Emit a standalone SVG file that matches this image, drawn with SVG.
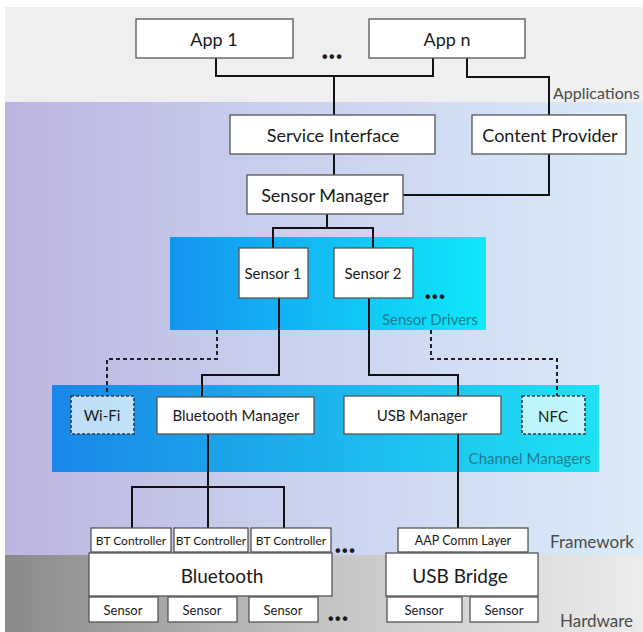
<svg xmlns="http://www.w3.org/2000/svg" width="643" height="632" viewBox="0 0 643 632">
<defs>
<linearGradient id="gFw" x1="0" y1="0" x2="1" y2="0">
<stop offset="0" stop-color="#bcb5e1"/>
<stop offset="0.45" stop-color="#c9d1ee"/>
<stop offset="1" stop-color="#dbecf8"/>
</linearGradient>
<linearGradient id="gHw" x1="0" y1="0" x2="1" y2="0">
<stop offset="0" stop-color="#8a8a8a"/>
<stop offset="0.5" stop-color="#c4c4c4"/>
<stop offset="1" stop-color="#ececec"/>
</linearGradient>
<linearGradient id="gSd" x1="0" y1="0" x2="1" y2="0">
<stop offset="0" stop-color="#1594f0"/>
<stop offset="1" stop-color="#0ee9f9"/>
</linearGradient>
<linearGradient id="gCm" x1="0" y1="0" x2="1" y2="0">
<stop offset="0" stop-color="#1a86e7"/>
<stop offset="1" stop-color="#1fe2f3"/>
</linearGradient>
<style>
.box{fill:#fff;stroke:#555;stroke-width:1.3}
.dbox{fill:#fff;fill-opacity:0.72;stroke:#333a4a;stroke-width:1.6;stroke-dasharray:3 2}
.t{font-family:Lato,"Liberation Sans",sans-serif;fill:#1a1a1a;text-anchor:middle;dominant-baseline:central}
.lbl{font-family:Lato,"Liberation Sans",sans-serif;fill:#4a4a4a;font-size:17px}
.blbl{font-family:Lato,"Liberation Sans",sans-serif;fill:#207d92;font-size:15px;text-anchor:end}
.dots{font-family:"Liberation Sans",sans-serif;fill:#1a1a1a;font-size:16px;font-weight:bold;letter-spacing:1.5px;dominant-baseline:central}
.c{fill:none;stroke:#111;stroke-width:2}
.cd{fill:none;stroke:#222;stroke-width:2;stroke-dasharray:4 3}
</style>
</defs>
<g id="background">
<rect x="0" y="0" width="643" height="632" fill="#fff"/>
<rect x="5" y="7" width="638" height="95" fill="#efefef"/>
<rect x="5" y="102" width="638" height="453" fill="url(#gFw)"/>
<rect x="5" y="555" width="638" height="77" fill="url(#gHw)"/>
<rect x="170" y="237" width="316" height="93" fill="url(#gSd)"/>
<rect x="52" y="385" width="547" height="87" fill="url(#gCm)"/>
<text class="lbl" x="553" y="99" style="font-size:16px">Applications</text>
<text class="lbl" x="550" y="548">Framework</text>
<text class="lbl" x="560" y="627">Hardware</text>
<text class="blbl" x="478" y="325">Sensor Drivers</text>
<text class="blbl" x="591" y="464">Channel Managers</text>
<text class="dots" x="322" y="56">•••</text>
<text class="dots" x="425" y="296">•••</text>
<text class="dots" x="335" y="550">•••</text>
<text class="dots" x="328" y="618">•••</text>
</g>
<g id="connectors">
<polyline class="c" points="216,58 216,76 433,76 433,58"/>
<polyline class="c" points="334,76 334,115"/>
<polyline class="c" points="467,58 467,77 549,77 549,115"/>
<polyline class="c" points="334,154 334,175"/>
<polyline class="c" points="549,154 549,195 403,195"/>
<polyline class="c" points="327,214 327,228"/>
<polyline class="c" points="273,248 273,228 373,228 373,248"/>
<polyline class="c" points="279,298 279,375 202,375 202,397"/>
<polyline class="c" points="369,298 369,375 458,375 458,396"/>
<polyline class="c" points="208,434 208,487"/>
<polyline class="c" points="132,528 132,487 284,487 284,528"/>
<polyline class="c" points="208,487 208,528"/>
<polyline class="c" points="458,434 458,528"/>
<polyline class="cd" points="217,330 217,359 107,359 107,396"/>
<polyline class="cd" points="431,330 431,359 557,359 557,396"/>
</g>
<g id="app1"><rect class="box" x="136" y="19" width="157" height="39"/><text class="t" x="214" y="39" font-size="18">App 1</text></g>
<g id="appn"><rect class="box" x="369" y="19" width="156" height="39"/><text class="t" x="447" y="39" font-size="18">App n</text></g>
<g id="service-interface"><rect class="box" x="230" y="115" width="205" height="39"/><text class="t" x="333" y="135" font-size="18">Service Interface</text></g>
<g id="content-provider"><rect class="box" x="472" y="115" width="154" height="39"/><text class="t" x="550" y="135" font-size="18">Content Provider</text></g>
<g id="sensor-manager"><rect class="box" x="247" y="175" width="156" height="39"/><text class="t" x="325" y="195" font-size="18">Sensor Manager</text></g>
<g id="sensor1"><rect class="box" x="239" y="248" width="69" height="50"/><text class="t" x="273" y="273" font-size="15">Sensor 1</text></g>
<g id="sensor2"><rect class="box" x="334" y="248" width="79" height="50"/><text class="t" x="373" y="273" font-size="15">Sensor 2</text></g>
<g id="wifi"><rect class="dbox" x="71" y="396" width="63" height="38"/><text class="t" x="102" y="415" font-size="15">Wi-Fi</text></g>
<g id="bluetooth-manager"><rect class="box" x="157" y="397" width="157" height="37"/><text class="t" x="236" y="415" font-size="15">Bluetooth Manager</text></g>
<g id="usb-manager"><rect class="box" x="344" y="396" width="157" height="38"/><text class="t" x="422" y="415" font-size="15">USB Manager</text></g>
<g id="nfc"><rect class="dbox" x="522" y="396" width="63" height="38"/><text class="t" x="553" y="416" font-size="15">NFC</text></g>
<g id="bt-controller1"><rect class="box" x="91" y="528" width="80" height="24"/><text class="t" x="131" y="540" font-size="12">BT Controller</text></g>
<g id="bt-controller2"><rect class="box" x="174" y="528" width="74" height="24"/><text class="t" x="211" y="540" font-size="12">BT Controller</text></g>
<g id="bt-controller3"><rect class="box" x="251" y="528" width="80" height="24"/><text class="t" x="291" y="540" font-size="12">BT Controller</text></g>
<g id="aap-comm-layer"><rect class="box" x="398" y="528" width="130" height="24"/><text class="t" x="463" y="540" font-size="12.5">AAP Comm Layer</text></g>
<g id="bluetooth"><rect class="box" x="89" y="553" width="243" height="43"/><text class="t" x="222" y="575" font-size="19">Bluetooth</text></g>
<g id="usb-bridge"><rect class="box" x="386" y="553" width="152" height="43"/><text class="t" x="460" y="575" font-size="19">USB Bridge</text></g>
<g id="hw-sensor1"><rect class="box" x="89" y="597" width="69" height="25"/><text class="t" x="123" y="610" font-size="13">Sensor</text></g>
<g id="hw-sensor2"><rect class="box" x="168" y="597" width="69" height="25"/><text class="t" x="202" y="610" font-size="13">Sensor</text></g>
<g id="hw-sensor3"><rect class="box" x="249" y="597" width="69" height="25"/><text class="t" x="283" y="610" font-size="13">Sensor</text></g>
<g id="hw-sensor4"><rect class="box" x="387" y="597" width="75" height="25"/><text class="t" x="424" y="610" font-size="13">Sensor</text></g>
<g id="hw-sensor5"><rect class="box" x="470" y="597" width="68" height="25"/><text class="t" x="504" y="610" font-size="13">Sensor</text></g>
</svg>
